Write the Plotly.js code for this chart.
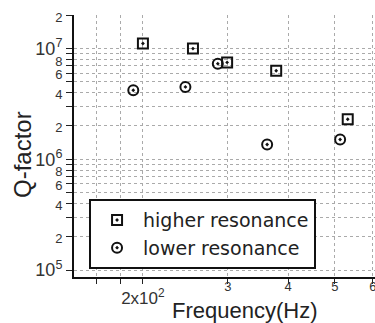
<!DOCTYPE html>
<html>
<head>
<meta charset="utf-8">
<script src="https://cdn.plot.ly/plotly-3.0.1.min.js"></script>
<style>html,body{margin:0;padding:0;background:#fff;}#chart{width:375px;height:323px;}</style>
</head>
<body>
<div id="chart"></div>
<script>
// Data
const higherFreq = [200, 254, 299, 378, 532];
const higherQ    = [1.11e7, 1.0e7, 7.5e6, 6.3e6, 2.3e6];
const lowerFreq  = [191, 245, 286, 362, 513];
const lowerQ     = [4.2e6, 4.5e6, 7.3e6, 1.36e6, 1.51e6];

const seriesNames = ["higher resonance", "lower resonance"];

const xTickVals = [160, 180, 200, 300, 400, 500, 600];
const xTickText = ["", "", "2x10<sup>2</sup>", "", "", "", ""];
const xSmallTickVals = [300, 400, 500, 600];
const xSmallTickText = ["3", "4", "5", "6"];

const yTickVals = [];
const yTickText = [];
const decades = [1e5, 1e6, 1e7];
const labeledDigits = [2, 4, 6, 8];
decades.forEach(d => {
  for (let k = 1; k <= 9; k++) {
    const v = k * d;
    if (v > 2e7) break;
    yTickVals.push(v);
    if (k === 1) yTickText.push("10<sup>" + Math.round(Math.log10(d)) + "</sup>");
    else if (labeledDigits.includes(k)) yTickText.push("<span style='font-size:13px'>" + k + "</span>");
    else yTickText.push("");
  }
});

const font = "Liberation Sans, Arial, sans-serif";
const xRange = [Math.log10(143.9), Math.log10(606)];

const traces = [
  {
    x: higherFreq, y: higherQ, name: seriesNames[0], type: "scatter", mode: "markers",
    marker: {symbol: "square-open-dot", size: 10, color: "#111", line: {width: 2, color: "#111"}}
  },
  {
    x: lowerFreq, y: lowerQ, name: seriesNames[1], type: "scatter", mode: "markers",
    marker: {symbol: "circle-open-dot", size: 10, color: "#111", line: {width: 2, color: "#111"}}
  },
  {
    x: [], y: [], xaxis: "x2", yaxis: "y", type: "scatter", mode: "markers",
    showlegend: false, hoverinfo: "skip"
  }
];

const layout = {
  width: 375, height: 323,
  margin: {l: 74, r: 0, t: 15, b: 46},
  paper_bgcolor: "#fff", plot_bgcolor: "#fff",
  font: {family: font, color: "#222"},
  showlegend: true,
  legend: {
    x: 0.05, y: 0.03, xanchor: "left", yanchor: "bottom",
    bordercolor: "#111", borderwidth: 2, bgcolor: "#fff",
    font: {size: 19, family: "DejaVu Sans, sans-serif", color: "#222"},
    itemwidth: 42
  },
  xaxis: {
    type: "log",
    range: xRange,
    tickmode: "array", tickvals: xTickVals, ticktext: xTickText,
    tickfont: {size: 17, color: "#333"},
    ticks: "outside", ticklen: 5, tickwidth: 1, tickcolor: "#222",
    showline: true, linecolor: "#111", linewidth: 2,
    showgrid: true, gridcolor: "#aaa", griddash: "dot", gridwidth: 1,
    zeroline: false
  },
  xaxis2: {
    type: "log", overlaying: "x", anchor: "y", side: "bottom",
    range: xRange,
    tickmode: "array", tickvals: xSmallTickVals, ticktext: xSmallTickText,
    tickfont: {size: 13, color: "#333"},
    ticklabeloverflow: "allow",
    ticks: "", showline: false, showgrid: false, zeroline: false
  },
  yaxis: {
    type: "log",
    range: [4.937, 7.303],
    tickmode: "array", tickvals: yTickVals, ticktext: yTickText,
    tickfont: {size: 18, color: "#333"},
    ticks: "outside", ticklen: 6, tickwidth: 1, tickcolor: "#222",
    showline: true, linecolor: "#111", linewidth: 2,
    showgrid: true, gridcolor: "#aaa", griddash: "dot", gridwidth: 1,
    zeroline: false
  },
  annotations: [
    {
      text: "Frequency(Hz)", xref: "paper", yref: "paper",
      x: 0.568, y: -0.072, xanchor: "center", yanchor: "top",
      showarrow: false, font: {size: 22, family: font, color: "#222"}
    },
    {
      text: "Q-factor", xref: "paper", yref: "paper", textangle: -90,
      x: (22 - 74) / 301, y: (277 - 155) / 262, xanchor: "center", yanchor: "middle",
      showarrow: false, font: {size: 24, family: font, color: "#222"}
    }
  ]
};

Plotly.newPlot("chart", traces, layout, {displayModeBar: false, staticPlot: true});
</script>
</body>
</html>
